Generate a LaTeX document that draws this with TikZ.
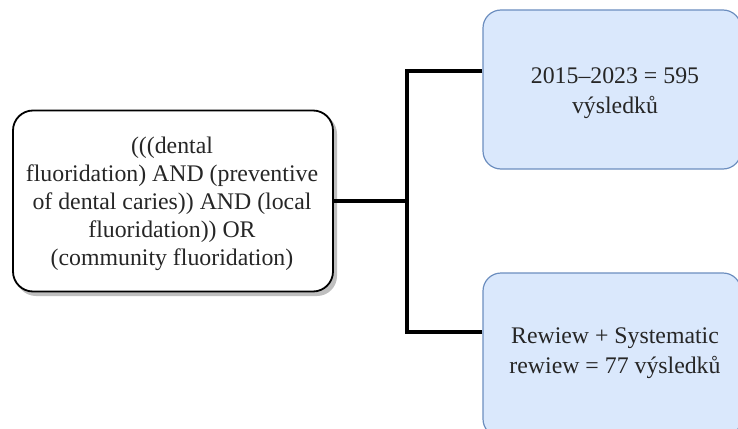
\documentclass[tikz,border=0pt]{standalone}
\usepackage{fontspec}
\setmainfont{Liberation Serif}
\definecolor{bfill}{HTML}{DAE8FC}
\definecolor{bdraw}{HTML}{6C8EBF}
\begin{document}
\begin{tikzpicture}[x=1pt,y=-1pt,
  leftbox/.style={draw=black, line width=1.8pt, fill=white, rounded corners=20pt,
    minimum width=320pt, minimum height=181pt, inner sep=0pt},
  bluebox/.style={draw=bdraw, line width=1.2pt, fill=bfill, rounded corners=18pt,
    minimum width=258pt, inner sep=0pt},
  lefttext/.style={align=center, inner sep=0pt, text=black!85,
    font=\fontsize{23.8}{28}\selectfont},
  bluetext/.style={align=center, inner sep=0pt, text=black!85,
    font=\fontsize{23.8}{30}\selectfont},
  conn/.style={draw=black, line width=3.2pt}]
\useasboundingbox (0,0) rectangle (738,428);
% shadow of the left box
\fill[black!25, rounded corners=20pt] (16,114) rectangle (337,296);
\node[leftbox] (L) at (173,201) {};
\node[lefttext] (Lt) at (172,204)
  {(((dental\\fluoridation) AND (preventive\\of dental caries)) AND (local\\fluoridation)) OR\\(community fluoridation)};
\node[bluebox, minimum height=159pt] (T) at (612,89.5) {};
\node[bluetext] (Tt) at (615,93) {2015–2023 = 595\\výsledků};
\node[bluebox, minimum height=164pt] (B) at (612,355) {};
\node[bluetext] (Bt) at (615,353) {Rewiew + Systematic\\rewiew = 77 výsledků};
\coordinate (J) at (407,201);
\coordinate (ya) at (0,71);
\coordinate (yb) at (0,332);
\draw[conn] (L.east) -- (J);
\draw[conn] (T.west |- ya) -| (J);
\draw[conn] (B.west |- yb) -| (J);
\end{tikzpicture}
\end{document}
